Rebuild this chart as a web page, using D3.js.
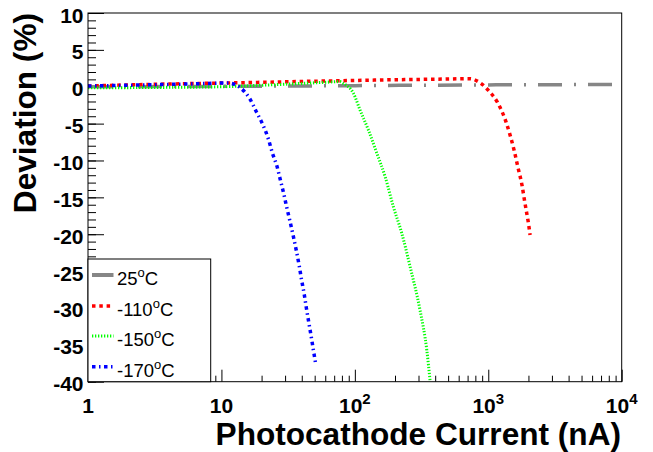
<!DOCTYPE html>
<html>
<head>
<meta charset="utf-8">
<script src="https://cdn.jsdelivr.net/npm/d3@7"></script>
<style>
  body { margin: 0; background: #fff; }
  svg { font-family: "Liberation Sans", Arial, sans-serif; }
</style>
</head>
<body>
<svg width="653" height="452"></svg>
<script>
// --- data ---
var seriesNames = ["25", "-110", "-150", "-170"];

var xGray = [1, 10, 100, 1000, 9000];
var yGray = [0.0, 0.05, 0.15, 0.25, 0.3];

var xRed = [1, 2, 5, 10, 20, 50, 100, 200, 500, 731, 840, 919, 1002, 1170, 1241, 1360, 1465, 1561, 1672, 1792, 1864, 1944, 1988, 2057];
var yRed = [0.1, 0.25, 0.4, 0.5, 0.6, 0.75, 0.85, 0.95, 1.05, 1.1, 0.7, 0.2, -0.5, -2.1, -3.0, -4.8, -6.7, -8.6, -11.0, -13.4, -15.3, -17.2, -18.2, -20.1];

var xGreen = [1, 3, 10, 20, 40, 60, 77, 82, 97.6, 109.6, 126.5, 146, 168.7, 194.6, 225, 259.5, 308, 346, 366];
var yGreen = [-0.15, -0.1, 0.0, 0.2, 0.45, 0.6, 0.7, 0.45, -0.9, -3.2, -5.9, -9.0, -12.2, -16.3, -19.9, -24.4, -30.3, -35.7, -39.8];

var xBlue = [1, 2, 5, 11.2, 14.0, 16.4, 18.4, 20.5, 22.5, 24.1, 26.1, 27.7, 29.4, 31, 32.8, 34.7, 36.5, 38.3, 39.8, 41.7, 43.4, 45.2, 47.1, 49, 51];
var yBlue = [0.1, 0.2, 0.35, 0.5, -0.2, -1.7, -3.5, -5.2, -7.1, -9.0, -10.8, -12.7, -14.6, -16.5, -18.4, -20.4, -22.3, -24.3, -26.1, -28.1, -30.1, -32.0, -33.9, -35.8, -37.7];

var yTicks = [10, 5, 0, -5, -10, -15, -20, -25, -30, -35, -40];
var xDecades = [1, 10, 100, 1000, 10000];
var xTickLabels = [["1", ""], ["10", ""], ["10", "2"], ["10", "3"], ["10", "4"]];

// --- layout ---
var frameL = 88, frameR = 621.7, frameT = 13, frameB = 381.7;

var svg = d3.select("svg");

var x = d3.scaleLog().domain([1, 10000]).range([frameL, frameR]);
var y = d3.scaleLinear().domain([-40, 10]).range([frameB, frameT]);

svg.append("defs").append("clipPath").attr("id", "frame")
    .append("rect")
    .attr("x", frameL).attr("y", frameT)
    .attr("width", frameR - frameL).attr("height", frameB - frameT);

// minor x ticks
var xMinor = [];
for (var d = 1; d < 10000; d *= 10) {
  for (var k = 2; k <= 9; k++) xMinor.push(d * k);
}

svg.append("g")
    .attr("transform", "translate(0," + frameB + ")")
    .call(d3.axisBottom(x).tickValues(xMinor).tickSizeInner(-6).tickSizeOuter(0).tickFormat(""))
    .call(function(g) { g.select(".domain").remove(); });

svg.append("g")
    .attr("transform", "translate(0," + frameB + ")")
    .call(d3.axisBottom(x).tickValues(xDecades).tickSizeInner(-12).tickSizeOuter(0).tickFormat(""))
    .call(function(g) { g.select(".domain").remove(); });

// y ticks
var yMinor = d3.range(-40, 11, 1);
svg.append("g")
    .attr("transform", "translate(" + frameL + ",0)")
    .call(d3.axisLeft(y).tickValues(yMinor).tickSizeInner(-8).tickSizeOuter(0).tickFormat(""))
    .call(function(g) { g.select(".domain").remove(); });

svg.append("g")
    .attr("transform", "translate(" + frameL + ",0)")
    .call(d3.axisLeft(y).tickValues(yTicks).tickSizeInner(-16).tickSizeOuter(0).tickFormat(""))
    .call(function(g) { g.select(".domain").remove(); });

svg.selectAll(".tick line").attr("stroke", "#000").attr("stroke-width", 1);

// y labels
svg.selectAll(".ylab")
    .data(yTicks)
    .enter().append("text")
    .attr("class", "ylab")
    .attr("x", 83.5)
    .attr("y", function(d) { return y(d) + 9.5; })
    .attr("text-anchor", "end")
    .attr("font-size", 21)
    .attr("font-weight", "bold")
    .text(function(d) { return d; });

// x labels
var xl = svg.selectAll(".xlab")
    .data(xDecades)
    .enter().append("text")
    .attr("class", "xlab")
    .attr("x", function(d) { return x(d); })
    .attr("y", 413)
    .attr("text-anchor", "middle")
    .attr("font-size", 21)
    .attr("font-weight", "bold");

xl.append("tspan").text(function(d, i) { return xTickLabels[i][0]; });
xl.append("tspan")
    .attr("dy", -9)
    .attr("font-size", 15)
    .text(function(d, i) { return xTickLabels[i][1]; });

// titles
svg.append("text")
    .attr("x", 621)
    .attr("y", 445)
    .attr("text-anchor", "end")
    .attr("font-size", 31.6)
    .attr("font-weight", "bold")
    .text("Photocathode Current (nA)");

svg.append("text")
    .attr("transform", "translate(36,13) rotate(-90)")
    .attr("text-anchor", "end")
    .attr("font-size", 31.6)
    .attr("font-weight", "bold")
    .text("Deviation (%)");

// curves
var styles = [
  { color: "#868686", width: 3.5, dash: "24,12,2,12" },
  { color: "#ff0000", width: 3.5, dash: "3.5,3.8" },
  { color: "#00ff00", width: 3, dash: "1.3,1.7" },
  { color: "#0000ff", width: 3.5, dash: "3.5,3.5,1.5,3.5" }
];

var series = [
  d3.zip(xGray, yGray),
  d3.zip(xRed, yRed),
  d3.zip(xGreen, yGreen),
  d3.zip(xBlue, yBlue)
];

var line = d3.line()
    .x(function(d) { return x(d[0]); })
    .y(function(d) { return y(d[1]); })
    .curve(d3.curveMonotoneX);

var plot = svg.append("g").attr("clip-path", "url(#frame)");

plot.selectAll("path.curve")
    .data(series)
    .enter().append("path")
    .attr("class", "curve")
    .attr("fill", "none")
    .attr("d", line)
    .attr("stroke", function(d, i) { return styles[i].color; })
    .attr("stroke-width", function(d, i) { return styles[i].width; })
    .attr("stroke-dasharray", function(d, i) { return styles[i].dash; });

// frame
svg.append("rect")
    .attr("x", frameL).attr("y", frameT)
    .attr("width", frameR - frameL).attr("height", frameB - frameT)
    .attr("fill", "none")
    .attr("stroke", "#000")
    .attr("stroke-width", 1);

// legend
var leg = svg.append("g");
leg.append("rect")
    .attr("x", frameL).attr("y", 259)
    .attr("width", 122.7).attr("height", frameB - 259)
    .attr("fill", "#fff")
    .attr("stroke", "#000")
    .attr("stroke-width", 1);

var rows = [275, 306, 336, 366.7];

leg.selectAll("line.sample")
    .data(seriesNames)
    .enter().append("line")
    .attr("class", "sample")
    .attr("x1", 92).attr("x2", 113.5)
    .attr("y1", function(d, i) { return rows[i]; })
    .attr("y2", function(d, i) { return rows[i]; })
    .attr("stroke", function(d, i) { return styles[i].color; })
    .attr("stroke-width", function(d, i) { return i == 0 ? 4 : styles[i].width; })
    .attr("stroke-dasharray", function(d, i) { return i == 0 ? null : styles[i].dash; });

var lt = leg.selectAll("text.entry")
    .data(seriesNames)
    .enter().append("text")
    .attr("class", "entry")
    .attr("x", 117)
    .attr("y", function(d, i) { return rows[i] + 10; })
    .attr("font-size", 18.5);

lt.append("tspan").text(function(d) { return d; });
lt.append("tspan").attr("dy", -8).attr("font-size", 13).text("o");
lt.append("tspan").attr("dy", 8).text("C");
</script>
</body>
</html>
